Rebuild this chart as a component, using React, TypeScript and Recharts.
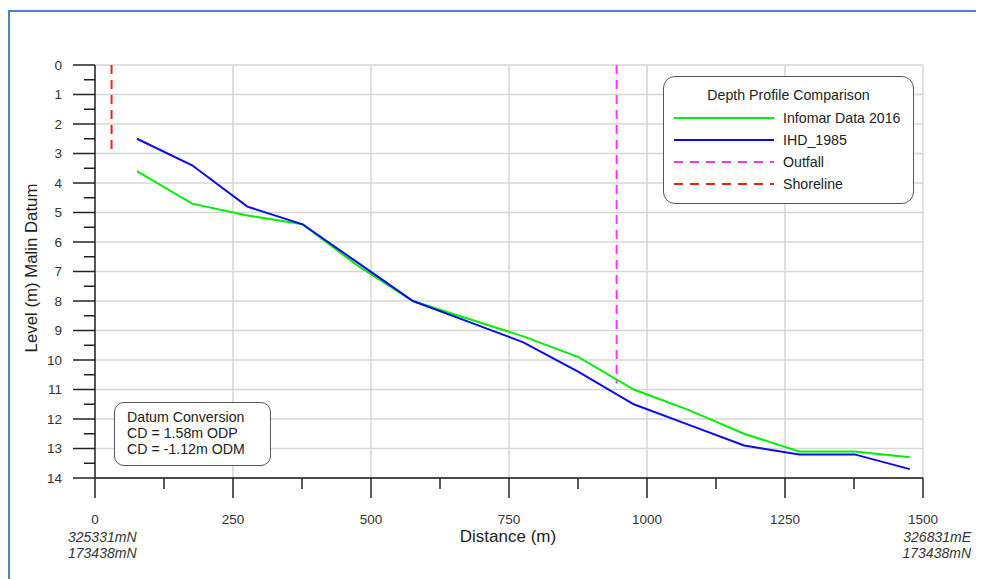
import { ComposedChart, Line, XAxis, YAxis, CartesianGrid, ReferenceLine } from "recharts";

// distance along the profile (m) and depth (m, Malin Datum)
const distance = [76, 176, 276, 376, 476, 576, 676, 776, 876, 976, 1076, 1176, 1276, 1376, 1476];
const infomar2016 = [3.6, 4.7, 5.1, 5.4, 6.8, 8.0, 8.6, 9.2, 9.9, 11.0, 11.7, 12.5, 13.1, 13.1, 13.3];
const ihd1985 = [2.5, 3.4, 4.8, 5.4, 6.7, 8.0, 8.7, 9.4, 10.4, 11.5, 12.2, 12.9, 13.2, 13.2, 13.7];

const xTicks = [0, 125, 250, 375, 500, 625, 750, 875, 1000, 1125, 1250, 1375, 1500];
const yTicks = [0, 0.5, 1, 1.5, 2, 2.5, 3, 3.5, 4, 4.5, 5, 5.5, 6, 6.5, 7, 7.5, 8, 8.5, 9, 9.5, 10, 10.5, 11, 11.5, 12, 12.5, 13, 13.5, 14];
const xGrid = [250, 500, 750, 1000, 1250, 1500];
const yGrid = [0, 1, 2, 3, 4, 5, 6, 7, 8, 9, 10, 11, 12, 13];

const shoreline = { x: 30, from: 0, to: 3 };
const outfall = { x: 945, from: 0, to: 10.8 };

const datumLines = ["Datum Conversion", "CD = 1.58m ODP", "CD = -1.12m ODM"];

const GREEN = "#00ee00";
const BLUE = "#0a0af0";
const MAGENTA = "#ff33ff";
const RED = "#ff1a1a";
const FONT = "'Liberation Sans', Arial, sans-serif";

const profile = distance.map((d, i) => ({ d, infomar: infomar2016[i], ihd: ihd1985[i] }));

const legendItems = [
  { name: "Infomar Data 2016", color: GREEN, dash: undefined },
  { name: "IHD_1985", color: BLUE, dash: undefined },
  { name: "Outfall", color: MAGENTA, dash: "9 7" },
  { name: "Shoreline", color: RED, dash: "9 7" },
];

function YTick(props: any) {
  const { x, y, payload } = props;
  const major = Number.isInteger(payload.value);
  return (
    <g>
      <line x1={x - (major ? 22 : 11)} y1={y} x2={x} y2={y} stroke="#222" strokeWidth={1.5} />
      {major && (
        <text x={x - 33} y={y} dy={4.5} textAnchor="end" fontSize={13.5} fill="#333" fontFamily={FONT}>
          {payload.value}
        </text>
      )}
    </g>
  );
}

function XTick(props: any) {
  const { x, y, payload } = props;
  const major = payload.value % 250 === 0;
  return (
    <g>
      <line x1={x} y1={y} x2={x} y2={y + (major ? 20 : 11)} stroke="#222" strokeWidth={1.5} />
      {major && (
        <text x={x} y={y} dy={46} textAnchor="middle" fontSize={13.5} fill="#333" fontFamily={FONT}>
          {payload.value}
        </text>
      )}
    </g>
  );
}

const coordStyle: React.CSSProperties = {
  position: "absolute",
  fontSize: 14,
  fontStyle: "italic",
  color: "#333",
  lineHeight: "16px",
  fontFamily: FONT,
};

export default function App() {
  return (
    <div style={{ position: "relative", width: 976, height: 571, overflow: "hidden", fontFamily: FONT }}>
      <div
        style={{
          position: "absolute",
          left: 0,
          top: 2,
          width: 1100,
          height: 700,
          border: "2px solid #4f81bd",
        }}
      />
      <div style={{ position: "absolute", left: 0, top: 0 }}>
        <ComposedChart width={976} height={571} data={profile} margin={{ top: 57, right: 61, bottom: 71, left: 0 }}>
          <CartesianGrid
            stroke="#d6d6d6"
            strokeWidth={1.5}
            horizontalValues={yGrid}
            verticalValues={xGrid}
          />
          <XAxis
            type="number"
            dataKey="d"
            domain={[0, 1500]}
            ticks={xTicks}
            interval={0}
            height={30}
            tickSize={0}
            tickMargin={0}
            tick={<XTick />}
            axisLine={{ stroke: "#111", strokeWidth: 1.5 }}
            tickLine={false}
          />
          <YAxis
            type="number"
            domain={[0, 14]}
            reversed
            ticks={yTicks}
            interval={0}
            width={87}
            tickSize={0}
            tickMargin={0}
            tick={<YTick />}
            axisLine={{ stroke: "#555", strokeWidth: 2 }}
            tickLine={false}
          />
          <ReferenceLine
            segment={[
              { x: shoreline.x, y: shoreline.from },
              { x: shoreline.x, y: shoreline.to },
            ]}
            stroke={RED}
            strokeWidth={2}
            strokeDasharray="9 6"
          />
          <ReferenceLine
            segment={[
              { x: outfall.x, y: outfall.from },
              { x: outfall.x, y: outfall.to },
            ]}
            stroke={MAGENTA}
            strokeWidth={2}
            strokeDasharray="9 6"
          />
          <Line type="linear" dataKey="infomar" stroke={GREEN} strokeWidth={2} dot={false} isAnimationActive={false} />
          <Line type="linear" dataKey="ihd" stroke={BLUE} strokeWidth={2} dot={false} isAnimationActive={false} />
        </ComposedChart>
      </div>

      {/* axis titles */}
      <div
        style={{
          position: "absolute",
          left: 24,
          top: 260,
          transform: "translate(-50%, -50%) rotate(-90deg)",
          whiteSpace: "nowrap",
          fontSize: 16.8,
          color: "#222",
        }}
      >
        Level (m) Malin Datum
      </div>
      <div
        style={{
          position: "absolute",
          left: 500,
          top: 529,
          transform: "translate(-50%, -50%)",
          whiteSpace: "nowrap",
          fontSize: 17,
          color: "#222",
        }}
      >
        Distance (m)
      </div>

      {/* end coordinates */}
      <div style={{ ...coordStyle, left: 60, top: 521 }}>
        325331mN
        <br />
        173438mN
      </div>
      <div style={{ ...coordStyle, right: 13, top: 521, textAlign: "right" }}>
        326831mE
        <br />
        173438mN
      </div>

      {/* legend */}
      <div
        style={{
          position: "absolute",
          left: 655,
          top: 68,
          width: 251,
          height: 128,
          border: "1.5px solid #555",
          borderRadius: 12,
          background: "#fff",
          boxSizing: "border-box",
        }}
      >
        <div style={{ position: "absolute", left: 0, right: 0, top: 10, textAlign: "center", fontSize: 14.2, color: "#222" }}>
          Depth Profile Comparison
        </div>
        {legendItems.map((item, i) => (
          <div key={item.name} style={{ position: "absolute", left: 9, top: 32 + i * 22, height: 17, display: "flex", alignItems: "center" }}>
            <svg width={102} height={6} style={{ display: "block" }}>
              <line x1={1} y1={3} x2={101} y2={3} stroke={item.color} strokeWidth={2} strokeDasharray={item.dash} />
            </svg>
            <span style={{ marginLeft: 8, fontSize: 14.2, color: "#222", whiteSpace: "nowrap" }}>{item.name}</span>
          </div>
        ))}
      </div>

      {/* datum box */}
      <div
        style={{
          position: "absolute",
          left: 106,
          top: 394,
          width: 157,
          height: 64,
          border: "1.5px solid #555",
          borderRadius: 10,
          background: "#fff",
          boxSizing: "border-box",
          padding: "6px 0 0 12px",
          fontSize: 14.2,
          lineHeight: "16px",
          color: "#222",
        }}
      >
        {datumLines.map((t) => (
          <div key={t}>{t}</div>
        ))}
      </div>
    </div>
  );
}
